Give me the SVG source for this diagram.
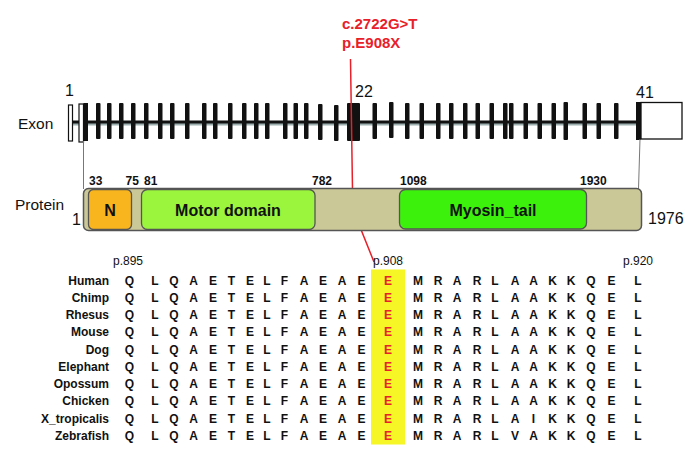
<svg xmlns="http://www.w3.org/2000/svg" width="700" height="459" viewBox="0 0 700 459">
<style>
.lab{font-family:"Liberation Sans",Arial,sans-serif;font-size:15.5px;fill:#111}
.num{font-family:"Liberation Sans",Arial,sans-serif;font-size:16px;fill:#111}
.pos{font-family:"Liberation Sans",Arial,sans-serif;font-size:12px;font-weight:bold;fill:#111}
.mut{font-family:"Liberation Sans",Arial,sans-serif;font-size:15px;font-weight:bold;fill:#e8202a}
.dom{font-family:"Liberation Sans",Arial,sans-serif;font-size:16px;font-weight:bold;fill:#111;text-anchor:middle}
.ex{fill:#111}
.sp{font-family:"Liberation Sans",Arial,sans-serif;font-size:12px;font-weight:bold;fill:#111;text-anchor:end}
.aa{font-family:"Liberation Sans",Arial,sans-serif;font-size:12px;font-weight:bold;fill:#111;text-anchor:middle}
.red{fill:#e8202a}
.pl{font-family:"Liberation Sans",Arial,sans-serif;font-size:12px;fill:#111}
</style>
<rect width="700" height="459" fill="#fff"/>

<g id="mutation-label">
<text class="mut" x="342" y="29">c.2722G&gt;T</text>
<text class="mut" x="342" y="48">p.E908X</text>
</g>

<g id="exon-track">
<text class="lab" x="18" y="129">Exon</text>
<line x1="73" y1="124" x2="640" y2="124" stroke="#9fb0b0" stroke-width="3"/>
<line x1="73" y1="122" x2="640" y2="122" stroke="#111" stroke-width="3"/>
<rect x="68.5" y="105" width="4" height="36" fill="#fff" stroke="#111" stroke-width="1.2"/>
<rect x="79" y="104" width="4.5" height="38" fill="#fff" stroke="#111" stroke-width="1.2"/>
<rect class="ex" x="83.5" y="103" width="4.5" height="38"/>
<g class="ex">
<rect x="96" y="103" width="4.5" height="36" rx="1"/>
<rect x="107" y="103" width="4.5" height="36" rx="1"/>
<rect x="119" y="103" width="4.5" height="36" rx="1"/>
<rect x="131" y="103" width="4.5" height="36" rx="1"/>
<rect x="144" y="103" width="4.5" height="36" rx="1"/>
<rect x="158" y="103" width="4.5" height="36" rx="1"/>
<rect x="170" y="103" width="4.5" height="36" rx="1"/>
<rect x="185" y="103" width="4.5" height="36" rx="1"/>
<rect x="202" y="103" width="4.5" height="36" rx="1"/>
<rect x="213" y="103" width="4.5" height="36" rx="1"/>
<rect x="228" y="103" width="4.5" height="36" rx="1"/>
<rect x="242" y="103" width="4.5" height="36" rx="1"/>
<rect x="254" y="103" width="4.5" height="36" rx="1"/>
<rect x="265" y="103" width="4.5" height="36" rx="1"/>
<rect x="283" y="103" width="4.5" height="36" rx="1"/>
<rect x="293.5" y="103" width="4.5" height="36" rx="1"/>
<rect x="304" y="103" width="4.5" height="36" rx="1"/>
<rect x="318" y="104" width="4.5" height="36" rx="1"/>
<rect x="334" y="105" width="4.5" height="36" rx="1"/>
<rect x="347" y="103" width="13" height="38" rx="1"/>
<rect x="372.5" y="103" width="4.5" height="36" rx="1"/>
<rect x="389" y="102" width="4.5" height="36" rx="1"/>
<rect x="405" y="103" width="4.5" height="36" rx="1"/>
<rect x="419.5" y="103" width="4.5" height="36" rx="1"/>
<rect x="436" y="103" width="4.5" height="36" rx="1"/>
<rect x="449" y="103" width="4.5" height="36" rx="1"/>
<rect x="463" y="103" width="4.5" height="36" rx="1"/>
<rect x="475.5" y="103" width="4.5" height="36" rx="1"/>
<rect x="489.5" y="103" width="4.5" height="36" rx="1"/>
<rect x="503" y="103" width="4.5" height="36" rx="1"/>
<rect x="509" y="103" width="4.5" height="36" rx="1"/>
<rect x="523.5" y="103" width="4.5" height="36" rx="1"/>
<rect x="537.5" y="103" width="4.5" height="36" rx="1"/>
<rect x="551.5" y="103" width="4.5" height="36" rx="1"/>
<rect x="563.5" y="102" width="4.5" height="38" rx="1"/>
<rect x="582.5" y="103" width="4.5" height="36" rx="1"/>
<rect x="596.5" y="103" width="4.5" height="36" rx="1"/>
<rect x="614" y="103" width="4.5" height="36" rx="1"/>
<rect x="636" y="102" width="5" height="38"/>
</g>
<rect x="641" y="102.5" width="41" height="36.5" fill="#fff" stroke="#111" stroke-width="1.3"/>
<text class="num" x="65" y="96">1</text>
<text class="num" x="355" y="97">22</text>
<text class="num" x="636" y="98">41</text>
</g>

<g id="connectors">
<line x1="83.5" y1="141" x2="83.5" y2="189" stroke="#777" stroke-width="1"/>
<line x1="640" y1="139" x2="638.5" y2="189" stroke="#777" stroke-width="1"/>
<polyline id="mutation-line" points="350.5,59 352.8,209 374,262" fill="none" stroke="#e8202a" stroke-width="1.5"/>
</g>

<g id="protein">
<text class="lab" x="15" y="210">Protein</text>
<rect x="83.5" y="188.5" width="558" height="42" rx="5" fill="#cbc898" stroke="#555" stroke-width="1.5"/>
<rect x="88.5" y="189.5" width="43" height="40" rx="5" fill="#f9b51d" stroke="#555" stroke-width="1.3"/>
<text class="dom" x="110" y="216">N</text>
<rect x="141.5" y="189.5" width="173.5" height="40" rx="6" fill="#9af53c" stroke="#555" stroke-width="1.3"/>
<text class="dom" x="228" y="216">Motor domain</text>
<rect x="399.5" y="189.5" width="187" height="39.5" rx="6" fill="#3cf20c" stroke="#555" stroke-width="1.3"/>
<text class="dom" x="493" y="216">Myosin_tail</text>
<text class="pos" x="89" y="185">33</text>
<text class="pos" x="125.5" y="185">75</text>
<text class="pos" x="144" y="185">81</text>
<text class="pos" x="312" y="185">782</text>
<text class="pos" x="400" y="185">1098</text>
<text class="pos" x="580" y="185">1930</text>
<text class="num" x="72" y="225">1</text>
<text class="num" x="648" y="224">1976</text>
</g>

<g id="alignment">
<rect x="371" y="269.5" width="34" height="175" fill="#f6f626"/>
<text class="pl" x="113" y="265">p.895</text>
<text class="pl" x="373" y="265">p.908</text>
<text class="pl" x="623" y="265">p.920</text>
<g class="sp">
<text x="109" y="284.5">Human</text>
<text x="109" y="301.75">Chimp</text>
<text x="109" y="319">Rhesus</text>
<text x="109" y="336.25">Mouse</text>
<text x="109" y="353.5">Dog</text>
<text x="109" y="370.75">Elephant</text>
<text x="109" y="388">Opossum</text>
<text x="109" y="405.25">Chicken</text>
<text x="109" y="422.5">X_tropicalis</text>
<text x="109" y="439.75">Zebrafish</text>
</g>
<g class="aa">
<text y="284.5"><tspan x="129.5">Q</tspan><tspan x="155">L</tspan><tspan x="174">Q</tspan><tspan x="193.5">A</tspan><tspan x="213">E</tspan><tspan x="231.5">T</tspan><tspan x="250">E</tspan><tspan x="267">L</tspan><tspan x="284.5">F</tspan><tspan x="304">A</tspan><tspan x="323">E</tspan><tspan x="342">A</tspan><tspan x="361.5">E</tspan><tspan x="388" class="red">E</tspan><tspan x="418">M</tspan><tspan x="438">R</tspan><tspan x="457">A</tspan><tspan x="477">R</tspan><tspan x="495">L</tspan><tspan x="515">A</tspan><tspan x="533.5">A</tspan><tspan x="552.5">K</tspan><tspan x="571">K</tspan><tspan x="591">Q</tspan><tspan x="611.5">E</tspan><tspan x="638">L</tspan></text>
<text y="301.75"><tspan x="129.5">Q</tspan><tspan x="155">L</tspan><tspan x="174">Q</tspan><tspan x="193.5">A</tspan><tspan x="213">E</tspan><tspan x="231.5">T</tspan><tspan x="250">E</tspan><tspan x="267">L</tspan><tspan x="284.5">F</tspan><tspan x="304">A</tspan><tspan x="323">E</tspan><tspan x="342">A</tspan><tspan x="361.5">E</tspan><tspan x="388" class="red">E</tspan><tspan x="418">M</tspan><tspan x="438">R</tspan><tspan x="457">A</tspan><tspan x="477">R</tspan><tspan x="495">L</tspan><tspan x="515">A</tspan><tspan x="533.5">A</tspan><tspan x="552.5">K</tspan><tspan x="571">K</tspan><tspan x="591">Q</tspan><tspan x="611.5">E</tspan><tspan x="638">L</tspan></text>
<text y="319"><tspan x="129.5">Q</tspan><tspan x="155">L</tspan><tspan x="174">Q</tspan><tspan x="193.5">A</tspan><tspan x="213">E</tspan><tspan x="231.5">T</tspan><tspan x="250">E</tspan><tspan x="267">L</tspan><tspan x="284.5">F</tspan><tspan x="304">A</tspan><tspan x="323">E</tspan><tspan x="342">A</tspan><tspan x="361.5">E</tspan><tspan x="388" class="red">E</tspan><tspan x="418">M</tspan><tspan x="438">R</tspan><tspan x="457">A</tspan><tspan x="477">R</tspan><tspan x="495">L</tspan><tspan x="515">A</tspan><tspan x="533.5">A</tspan><tspan x="552.5">K</tspan><tspan x="571">K</tspan><tspan x="591">Q</tspan><tspan x="611.5">E</tspan><tspan x="638">L</tspan></text>
<text y="336.25"><tspan x="129.5">Q</tspan><tspan x="155">L</tspan><tspan x="174">Q</tspan><tspan x="193.5">A</tspan><tspan x="213">E</tspan><tspan x="231.5">T</tspan><tspan x="250">E</tspan><tspan x="267">L</tspan><tspan x="284.5">F</tspan><tspan x="304">A</tspan><tspan x="323">E</tspan><tspan x="342">A</tspan><tspan x="361.5">E</tspan><tspan x="388" class="red">E</tspan><tspan x="418">M</tspan><tspan x="438">R</tspan><tspan x="457">A</tspan><tspan x="477">R</tspan><tspan x="495">L</tspan><tspan x="515">A</tspan><tspan x="533.5">A</tspan><tspan x="552.5">K</tspan><tspan x="571">K</tspan><tspan x="591">Q</tspan><tspan x="611.5">E</tspan><tspan x="638">L</tspan></text>
<text y="353.5"><tspan x="129.5">Q</tspan><tspan x="155">L</tspan><tspan x="174">Q</tspan><tspan x="193.5">A</tspan><tspan x="213">E</tspan><tspan x="231.5">T</tspan><tspan x="250">E</tspan><tspan x="267">L</tspan><tspan x="284.5">F</tspan><tspan x="304">A</tspan><tspan x="323">E</tspan><tspan x="342">A</tspan><tspan x="361.5">E</tspan><tspan x="388" class="red">E</tspan><tspan x="418">M</tspan><tspan x="438">R</tspan><tspan x="457">A</tspan><tspan x="477">R</tspan><tspan x="495">L</tspan><tspan x="515">A</tspan><tspan x="533.5">A</tspan><tspan x="552.5">K</tspan><tspan x="571">K</tspan><tspan x="591">Q</tspan><tspan x="611.5">E</tspan><tspan x="638">L</tspan></text>
<text y="370.75"><tspan x="129.5">Q</tspan><tspan x="155">L</tspan><tspan x="174">Q</tspan><tspan x="193.5">A</tspan><tspan x="213">E</tspan><tspan x="231.5">T</tspan><tspan x="250">E</tspan><tspan x="267">L</tspan><tspan x="284.5">F</tspan><tspan x="304">A</tspan><tspan x="323">E</tspan><tspan x="342">A</tspan><tspan x="361.5">E</tspan><tspan x="388" class="red">E</tspan><tspan x="418">M</tspan><tspan x="438">R</tspan><tspan x="457">A</tspan><tspan x="477">R</tspan><tspan x="495">L</tspan><tspan x="515">A</tspan><tspan x="533.5">A</tspan><tspan x="552.5">K</tspan><tspan x="571">K</tspan><tspan x="591">Q</tspan><tspan x="611.5">E</tspan><tspan x="638">L</tspan></text>
<text y="388"><tspan x="129.5">Q</tspan><tspan x="155">L</tspan><tspan x="174">Q</tspan><tspan x="193.5">A</tspan><tspan x="213">E</tspan><tspan x="231.5">T</tspan><tspan x="250">E</tspan><tspan x="267">L</tspan><tspan x="284.5">F</tspan><tspan x="304">A</tspan><tspan x="323">E</tspan><tspan x="342">A</tspan><tspan x="361.5">E</tspan><tspan x="388" class="red">E</tspan><tspan x="418">M</tspan><tspan x="438">R</tspan><tspan x="457">A</tspan><tspan x="477">R</tspan><tspan x="495">L</tspan><tspan x="515">A</tspan><tspan x="533.5">A</tspan><tspan x="552.5">K</tspan><tspan x="571">K</tspan><tspan x="591">Q</tspan><tspan x="611.5">E</tspan><tspan x="638">L</tspan></text>
<text y="405.25"><tspan x="129.5">Q</tspan><tspan x="155">L</tspan><tspan x="174">Q</tspan><tspan x="193.5">A</tspan><tspan x="213">E</tspan><tspan x="231.5">T</tspan><tspan x="250">E</tspan><tspan x="267">L</tspan><tspan x="284.5">F</tspan><tspan x="304">A</tspan><tspan x="323">E</tspan><tspan x="342">A</tspan><tspan x="361.5">E</tspan><tspan x="388" class="red">E</tspan><tspan x="418">M</tspan><tspan x="438">R</tspan><tspan x="457">A</tspan><tspan x="477">R</tspan><tspan x="495">L</tspan><tspan x="515">A</tspan><tspan x="533.5">A</tspan><tspan x="552.5">K</tspan><tspan x="571">K</tspan><tspan x="591">Q</tspan><tspan x="611.5">E</tspan><tspan x="638">L</tspan></text>
<text y="422.5"><tspan x="129.5">Q</tspan><tspan x="155">L</tspan><tspan x="174">Q</tspan><tspan x="193.5">A</tspan><tspan x="213">E</tspan><tspan x="231.5">T</tspan><tspan x="250">E</tspan><tspan x="267">L</tspan><tspan x="284.5">F</tspan><tspan x="304">A</tspan><tspan x="323">E</tspan><tspan x="342">A</tspan><tspan x="361.5">E</tspan><tspan x="388" class="red">E</tspan><tspan x="418">M</tspan><tspan x="438">R</tspan><tspan x="457">A</tspan><tspan x="477">R</tspan><tspan x="495">L</tspan><tspan x="515">A</tspan><tspan x="533.5">I</tspan><tspan x="552.5">K</tspan><tspan x="571">K</tspan><tspan x="591">Q</tspan><tspan x="611.5">E</tspan><tspan x="638">L</tspan></text>
<text y="439.75"><tspan x="129.5">Q</tspan><tspan x="155">L</tspan><tspan x="174">Q</tspan><tspan x="193.5">A</tspan><tspan x="213">E</tspan><tspan x="231.5">T</tspan><tspan x="250">E</tspan><tspan x="267">L</tspan><tspan x="284.5">F</tspan><tspan x="304">A</tspan><tspan x="323">E</tspan><tspan x="342">A</tspan><tspan x="361.5">E</tspan><tspan x="388" class="red">E</tspan><tspan x="418">M</tspan><tspan x="438">R</tspan><tspan x="457">A</tspan><tspan x="477">R</tspan><tspan x="495">L</tspan><tspan x="515">V</tspan><tspan x="533.5">A</tspan><tspan x="552.5">K</tspan><tspan x="571">K</tspan><tspan x="591">Q</tspan><tspan x="611.5">E</tspan><tspan x="638">L</tspan></text>
</g>
</g>
</svg>
